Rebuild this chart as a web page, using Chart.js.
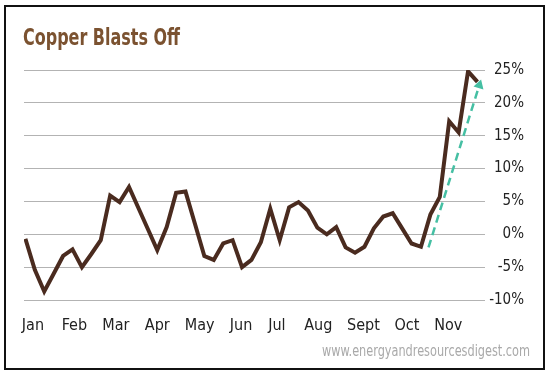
<!DOCTYPE html>
<html>
<head>
<meta charset="utf-8">
<script src="https://cdn.jsdelivr.net/npm/chart.js@4.4.0/dist/chart.umd.min.js"></script>
<style>
  html, body { margin: 0; padding: 0; background: #fff; }
  #wrap { position: relative; width: 550px; height: 375px; }
  #frame { position: absolute; left: 4px; top: 5px; width: 537px; height: 361px; border: 2px solid #111; pointer-events: none; }
  canvas { position: absolute; left: 0; top: 0; }
</style>
</head>
<body>
<div id="wrap">
  <canvas id="chart" width="550" height="375"></canvas>
  <div id="frame"></div>
</div>
<script>
const FONT = '"Liberation Sans Narrow", "DejaVu Sans Condensed", sans-serif';

const titleText = 'Copper Blasts Off';
const sourceText = 'www.energyandresourcesdigest.com';

// month labels and where they sit, in weeks from the first point
const monthLabels = ['Jan', 'Feb', 'Mar', 'Apr', 'May', 'Jun', 'Jul', 'Aug', 'Sept', 'Oct', 'Nov'];
const monthPositions = [0.8, 5.2, 9.6, 14.0, 18.5, 22.9, 26.7, 31.1, 35.9, 40.5, 44.9];

// weekly % change of copper
const copperChange = [
  -0.7, -5.4, -8.7, -6.0, -3.3, -2.3, -5.0, -3.0, -0.9, 5.9,
  4.9, 7.2, 4.0, 0.8, -2.4, 1.1, 6.3, 6.5, 1.6, -3.3,
  -3.9, -1.4, -0.9, -5.0, -3.9, -1.2, 3.9, -0.9, 4.1, 4.9,
  3.6, 1.0, 0.0, 1.1, -2.0, -2.8, -1.9, 0.9, 2.7, 3.2,
  0.9, -1.4, -1.9, 3.0, 5.7, 17.2, 15.5, 24.8, 23.2
];

// dashed trend arrow
const trendX = [42.8, 48.2];
const trendY = [-2.0, 22.7];

// draw text squeezed to a given width (no narrow font installed)
function squeezedText(ctx, text, x, y, width, align) {
  const w = ctx.measureText(text).width;
  const sx = Math.min(1, width / w);
  ctx.save();
  ctx.translate(x, y);
  ctx.scale(sx, 1);
  ctx.textAlign = align;
  ctx.fillText(text, 0, 0);
  ctx.restore();
}

const textPlugin = {
  id: 'texts',
  afterDraw(chart) {
    const ctx = chart.ctx;
    ctx.save();
    ctx.textBaseline = 'alphabetic';
    ctx.fillStyle = '#7b5230';
    ctx.font = 'bold 23px ' + FONT;
    squeezedText(ctx, titleText, 23, 45, 157, 'left');
    ctx.fillStyle = '#a9a9a9';
    ctx.font = '16px ' + FONT;
    squeezedText(ctx, sourceText, 530, 356, 208, 'right');
    ctx.restore();
  }
};

new Chart(document.getElementById('chart'), {
  type: 'line',
  data: {
    datasets: [
      {
        data: copperChange.map((v, i) => ({x: i, y: v})),
        borderColor: '#4a2b1f',
        borderWidth: 4,
        borderJoinStyle: 'miter',
        pointRadius: 0,
        tension: 0
      },
      {
        data: trendX.map((x, i) => ({x: x, y: trendY[i]})),
        borderColor: '#45bfa3',
        borderWidth: 2.5,
        borderDash: [8, 5],
        pointRadius: [0, 6],
        pointStyle: 'triangle',
        rotation: 17,
        pointBackgroundColor: '#45bfa3',
        pointBorderWidth: 0,
        tension: 0
      }
    ]
  },
  options: {
    responsive: false,
    animation: false,
    events: [],
    layout: {padding: {left: 24, top: 70, right: 26, bottom: 0}},
    plugins: {legend: {display: false}, tooltip: {enabled: false}},
    scales: {
      x: {
        type: 'linear',
        min: -0.15,
        max: 48.8,
        afterBuildTicks: (s) => { s.ticks = monthPositions.map(v => ({value: v})); },
        afterFit: (s) => { s.height = 75; },
        grid: {display: false},
        border: {display: false},
        ticks: {
          autoSkip: false,
          maxRotation: 0,
          padding: 8,
          color: '#222',
          font: {family: FONT, size: 16},
          callback: (v, i) => monthLabels[i]
        }
      },
      y: {
        position: 'right',
        min: -10,
        max: 25,
        afterFit: (s) => { s.width = 39; },
        grid: {color: '#b3b3b3', lineWidth: 1, drawTicks: false},
        border: {display: false},
        ticks: {
          stepSize: 5,
          crossAlign: 'far',
          padding: 4,
          color: '#222',
          font: {family: FONT, size: 15},
          callback: (v) => v + '%'
        }
      }
    }
  },
  plugins: [textPlugin]
});
</script>
</body>
</html>
